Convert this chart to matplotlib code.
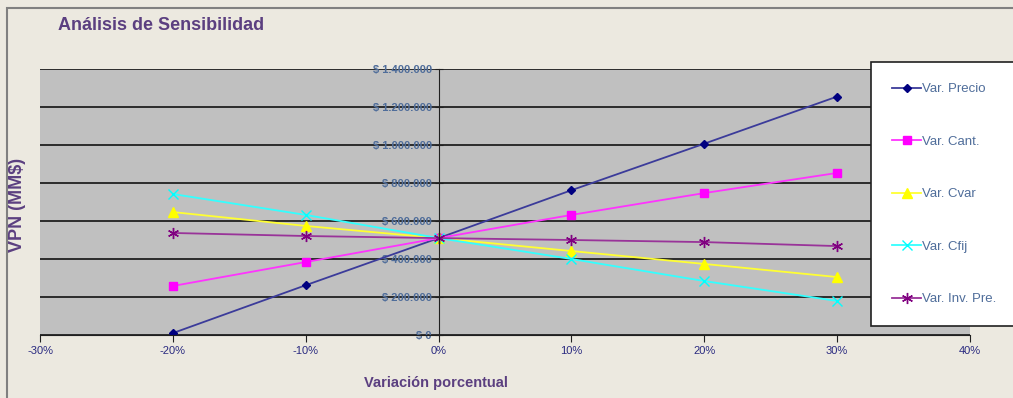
import matplotlib.pyplot as plt
from matplotlib.patches import Rectangle
from matplotlib.ticker import FuncFormatter

# data
variacion = [-0.20, -0.10, 0.0, 0.10, 0.20, 0.30]
var_precio = [10000, 262000, 510000, 762000, 1007000, 1255000]
var_cant = [258000, 384000, 510000, 632000, 747000, 853000]
var_cvar = [647000, 574000, 510000, 442000, 374000, 305000]
var_cfij = [742000, 632000, 510000, 400000, 284000, 179000]
var_inv_pre = [537000, 521000, 510000, 500000, 489000, 468000]

plt.rcParams['font.family'] = ['Liberation Sans', 'DejaVu Sans']

bg = '#ecE9E0'
purple_txt = '#5b3f80'
tick_blue = '#4f6d9a'

fig = plt.figure(figsize=(10.13, 3.98), dpi=100, facecolor=bg)
ax = fig.add_axes([40 / 1013, 1 - 335 / 398, 930 / 1013, 266 / 398])
ax.set_facecolor('#c0c0c0')

series = [
    ('Var. Precio', var_precio, '#3b3b9a', '#000080', 'D', 4.5),
    ('Var. Cant.', var_cant, '#ff33ff', '#ff00ff', 's', 5.5),
    ('Var. Cvar', var_cvar, '#ffff33', '#ffff00', '^', 6.5),
    ('Var. Cfij', var_cfij, '#33ffff', '#00ffff', 'x', 6.5),
    ('Var. Inv. Pre.', var_inv_pre, '#993399', '#800080', (6, 2, 0), 8),
]
for label, vals, lc, mc, mk, ms in series:
    ax.plot(variacion, vals, color=lc, lw=1.3, marker=mk, markersize=ms,
            markerfacecolor=mc, markeredgecolor=mc, markeredgewidth=1.0, label=label)

ax.set_xlim(-0.30, 0.40)
ax.set_ylim(0, 1400000)
ax.set_xticks([-0.3, -0.2, -0.1, 0.0, 0.1, 0.2, 0.3, 0.4])
ax.set_yticks(range(0, 1400001, 200000))
ax.xaxis.set_major_formatter(FuncFormatter(lambda v, p: f'{round(v * 100):d}%'))
ax.yaxis.set_major_formatter(FuncFormatter(
    lambda v, p: '$ ' + f'{int(v):,}'.replace(',', '.')))

ax.grid(axis='y', color='#202020', lw=1.3)
ax.set_axisbelow(True)
ax.spines['left'].set_position(('data', 0))
ax.spines['right'].set_visible(False)
ax.spines['top'].set_visible(False)
ax.spines['left'].set_color('#202020')
ax.spines['bottom'].set_color('#202020')
ax.tick_params(axis='y', direction='inout', length=6, colors='#202020',
               labelcolor=tick_blue, labelsize=8, pad=2)
ax.tick_params(axis='x', direction='out', length=5, colors='#202020',
               labelcolor='#2a2a80', labelsize=8, pad=3)
for t in ax.get_yticklabels():
    t.set_fontweight('bold')

fig.text(58 / 1013, 1 - 25 / 398, 'Análisis de Sensibilidad', color=purple_txt,
         fontsize=13, fontweight='bold', va='center', ha='left')
fig.text(18 / 1013, 1 - 205 / 398, 'VPN (MM$)', color=purple_txt, fontsize=13,
         fontweight='bold', rotation=90, va='center', ha='center')
fig.text(436 / 1013, 1 - 383 / 398, 'Variación porcentual', color=purple_txt,
         fontsize=10.5, fontweight='bold', va='center', ha='center')

# outer chart frame
fig.patches.append(Rectangle((7 / 1013, -0.1), 1.2, 1 - 8 / 398 + 0.1, transform=fig.transFigure,
                             fill=False, edgecolor='#808080', lw=1.5))

leg = fig.legend(loc='upper left', bbox_to_anchor=(871 / 1013, 1 - 62 / 398),
                 frameon=True, fancybox=False, edgecolor='#202020', facecolor='white',
                 fontsize=9.5, labelspacing=3.05, handlelength=2.2, handletextpad=0.1,
                 borderpad=1.6, borderaxespad=0)
leg.get_frame().set_linewidth(1.2)
leg.get_frame().set_alpha(1)
for t in leg.get_texts():
    t.set_color(tick_blue)

fig.savefig('out.png', dpi=100, facecolor=bg)
